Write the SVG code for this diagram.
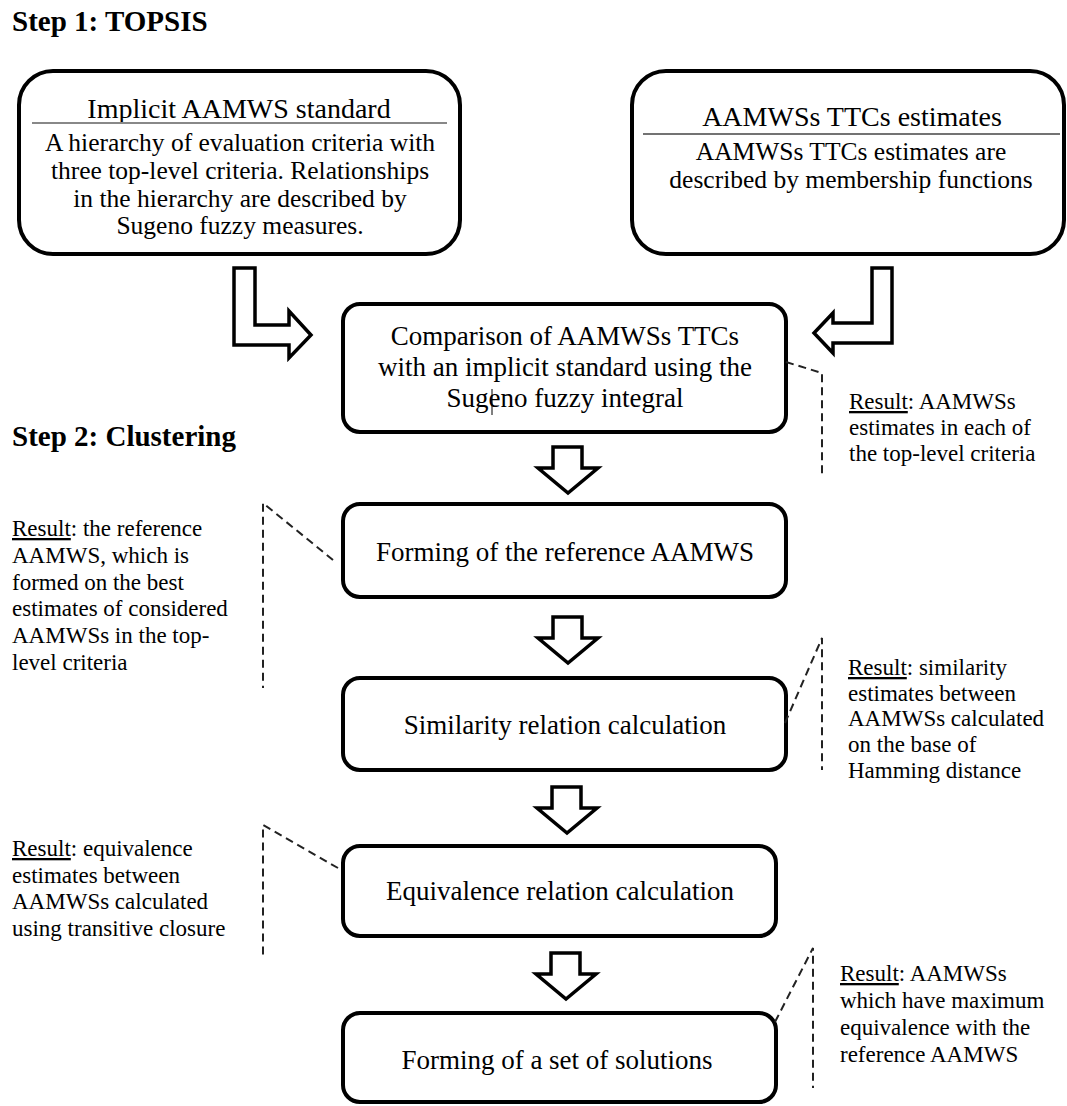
<svg xmlns="http://www.w3.org/2000/svg" width="1067" height="1106" viewBox="0 0 1067 1106">
<style>
  text { font-family: "Liberation Serif", "Times New Roman", serif; fill: #000; }
  .title { font-size: 29px; font-weight: bold; }
  .hdr { font-size: 28px; text-anchor: middle; }
  .body { font-size: 25.5px; text-anchor: middle; }
  .main { font-size: 27px; text-anchor: middle; }
  .ann { font-size: 23px; }
  .u { text-decoration: underline; }
  .box { fill: #fff; stroke: #000; stroke-width: 4; }
  .arrow { fill: #fff; stroke: #000; stroke-width: 3.5; stroke-linejoin: miter; }
  .dash { fill: none; stroke: #222; stroke-width: 2; stroke-dasharray: 8 5; }
</style>
<rect x="0" y="0" width="1067" height="1106" fill="#fff"/>

<text class="title" x="12" y="31">Step 1: TOPSIS</text>
<text class="title" x="12" y="446">Step 2: Clustering</text>

<g id="node-implicit">
  <rect class="box" x="19" y="71" width="441" height="183" rx="34" ry="34"/>
  <text class="hdr" x="239" y="118">Implicit AAMWS standard</text>
  <line x1="32" y1="123" x2="447" y2="123" stroke="#888" stroke-width="2"/>
  <text class="body" x="240" y="151">A hierarchy of evaluation criteria with</text>
  <text class="body" x="240" y="179">three top-level criteria. Relationships</text>
  <text class="body" x="240" y="207">in the hierarchy are described by</text>
  <text class="body" x="240" y="234">Sugeno fuzzy measures.</text>
</g>

<g id="node-estimates">
  <rect class="box" x="632" y="71" width="432" height="183" rx="34" ry="34"/>
  <text class="hdr" x="852" y="126">AAMWSs TTCs estimates</text>
  <line x1="643" y1="134" x2="1060" y2="134" stroke="#444" stroke-width="1.5"/>
  <text class="body" x="851" y="160">AAMWSs TTCs estimates are</text>
  <text class="body" x="851" y="188">described by membership functions</text>
</g>

<g id="node-comparison">
  <rect class="box" x="343" y="304" width="443" height="128" rx="17" ry="17"/>
  <text class="main" x="565" y="345">Comparison of AAMWSs TTCs</text>
  <text class="main" x="565" y="376">with an implicit standard using the</text>
  <text class="main" x="565" y="407">Sugeno fuzzy integral</text>
  <line x1="492" y1="389" x2="492" y2="415" stroke="#000" stroke-width="1"/>
</g>

<g id="node-reference">
  <rect class="box" x="343" y="504" width="443" height="93" rx="17" ry="17"/>
  <text class="main" x="565" y="561">Forming of the reference AAMWS</text>
</g>

<g id="node-similarity">
  <rect class="box" x="343" y="678" width="443" height="92" rx="17" ry="17"/>
  <text class="main" x="565" y="734">Similarity relation calculation</text>
</g>

<g id="node-equivalence">
  <rect class="box" x="343" y="846" width="433" height="90" rx="17" ry="17"/>
  <text class="main" x="560" y="900">Equivalence relation calculation</text>
</g>

<g id="node-solutions">
  <rect class="box" x="343" y="1013" width="433" height="89" rx="17" ry="17"/>
  <text class="main" x="557" y="1069">Forming of a set of solutions</text>
</g>

<g id="connectors">
  <polygon class="arrow" points="234,268 255,268 255,325 289,325 289,311 311,335 289,358 289,345 234,345"/>
  <polygon class="arrow" points="892,268 872,268 872,323 833,323 833,313 814,333 833,353 833,343 892,343"/>
  <polygon class="arrow" points="553,447 582,447 582,468 598,468 568,493 538,468 553,468"/>
  <polygon class="arrow" points="553,617 582,617 582,638 598,638 568,663 538,638 553,638"/>
  <polygon class="arrow" points="552,787 581,787 581,808 597,808 567,833 537,808 552,808"/>
  <polygon class="arrow" points="551,953 580,953 580,974 596,974 566,999 536,974 551,974"/>
</g>

<g id="annotations">
  <polyline class="dash" points="786,362 822,373 822,477"/>
  <polyline class="dash" points="333,560 263,503 263,688"/>
  <polyline class="dash" points="785,723 822,638 822,770"/>
  <polyline class="dash" points="338,868 263,825 263,958"/>
  <polyline class="dash" points="775,1022 813,948 813,1088"/>

  <text class="ann" x="849" y="409"><tspan class="u">Result</tspan>: AAMWSs</text>
  <text class="ann" x="849" y="435">estimates in each of</text>
  <text class="ann" x="849" y="461">the top-level criteria</text>

  <text class="ann" x="12" y="536"><tspan class="u">Result</tspan>: the reference</text>
  <text class="ann" x="12" y="563">AAMWS, which is</text>
  <text class="ann" x="12" y="590">formed on the best</text>
  <text class="ann" x="12" y="616">estimates of considered</text>
  <text class="ann" x="12" y="643">AAMWSs in the top-</text>
  <text class="ann" x="12" y="670">level criteria</text>

  <text class="ann" x="848" y="675"><tspan class="u">Result</tspan>: similarity</text>
  <text class="ann" x="848" y="701">estimates between</text>
  <text class="ann" x="848" y="726">AAMWSs calculated</text>
  <text class="ann" x="848" y="752">on the base of</text>
  <text class="ann" x="848" y="778">Hamming distance</text>

  <text class="ann" x="12" y="856"><tspan class="u">Result</tspan>: equivalence</text>
  <text class="ann" x="12" y="883">estimates between</text>
  <text class="ann" x="12" y="909">AAMWSs calculated</text>
  <text class="ann" x="12" y="936">using transitive closure</text>

  <text class="ann" x="840" y="981"><tspan class="u">Result</tspan>: AAMWSs</text>
  <text class="ann" x="840" y="1008">which have maximum</text>
  <text class="ann" x="840" y="1035">equivalence with the</text>
  <text class="ann" x="840" y="1062">reference AAMWS</text>
</g>
</svg>
